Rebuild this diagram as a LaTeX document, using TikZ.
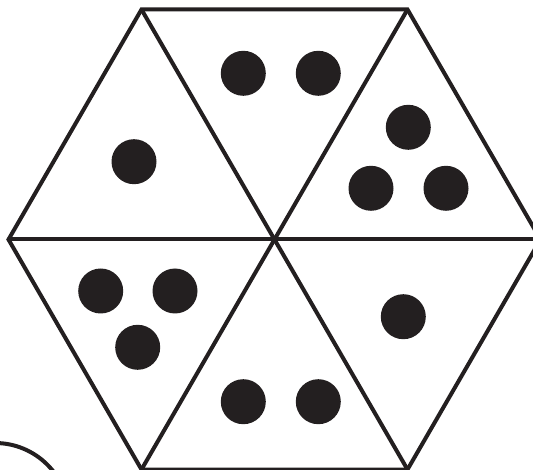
\documentclass[tikz,border=0pt]{standalone}
\usepackage{tikz}
\definecolor{dotblack}{HTML}{231F20}
\tikzset{
  edge/.style={draw=dotblack, line width=4pt, line join=miter},
  pip/.style={fill=dotblack}
}
\begin{document}
\begin{tikzpicture}[x=1pt, y=-1pt]
\useasboundingbox (0,0) rectangle (533,470);
\clip (0,0) rectangle (533,470);
% hexagon corners
\coordinate (mid) at (274.5,239.5);
\coordinate (west) at (8.5,239.5);
\coordinate (east) at (540.5,239.5);
\coordinate (nw) at (141.5,9.5);
\coordinate (ne) at (407.5,9.5);
\coordinate (sw) at (141.5,469.5);
\coordinate (se) at (407.5,469.5);
\draw[edge] (west) -- (nw) -- (ne) -- (east) -- (se) -- (sw) -- cycle;
\draw[edge] (west) -- (east);
\draw[edge] (nw) -- (se);
\draw[edge] (ne) -- (sw);
% pips
\foreach \px/\py in {134/161.7, 243.3/73.3, 318.3/73.3,
  408.3/127.3, 371/188.3, 446/188.3,
  100.7/291, 175/291, 137.7/347.3,
  403.3/316.7, 243.3/401.7, 318.3/401.7}
  \fill[pip] (\px,\py) circle (22.5);
% part of a round shape at the corner
\draw[edge] (-5,517) circle (74);
\end{tikzpicture}
\end{document}
